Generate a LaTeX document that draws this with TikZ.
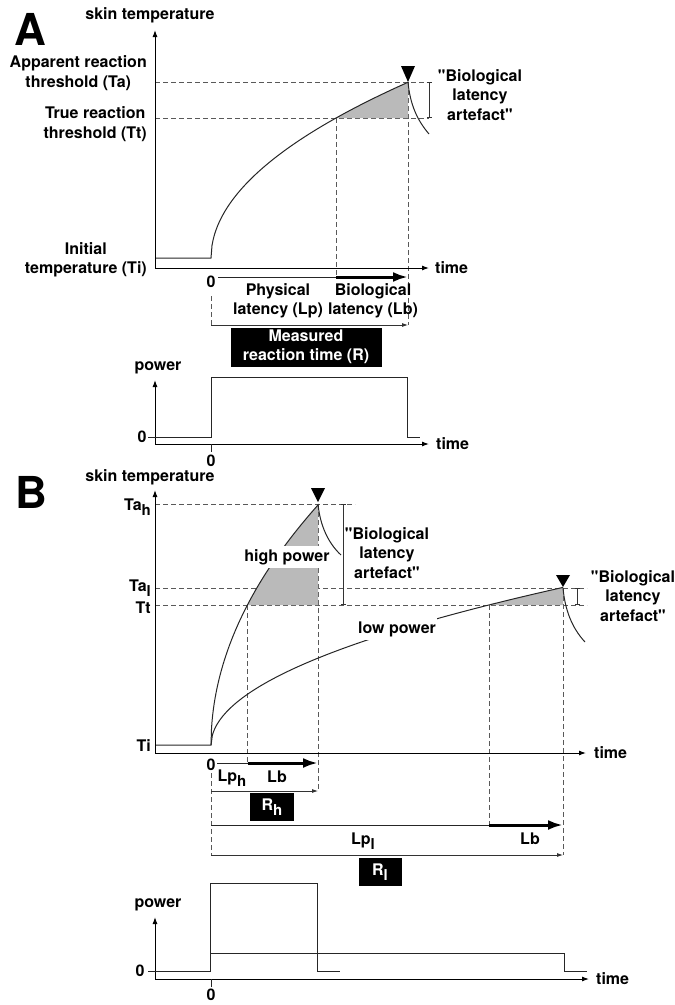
\documentclass[tikz,border=0pt]{standalone}
\usepackage{fontspec}
\setmainfont[Ligatures=TeXOff]{TeX Gyre Heros}
\usetikzlibrary{arrows.meta}
\newcommand{\lsub}[1]{\raisebox{-0.35em}{\fontsize{15}{15}\selectfont #1}}

\tikzset{
  lab/.style={font=\fontsize{16}{19.5}\selectfont\bfseries, inner sep=0pt, align=center},
  letter/.style={font=\fontsize{44}{44}\selectfont\bfseries, inner sep=0pt},
  axis/.style={line width=1pt, -{Latex[length=7pt,width=5pt]}},
  guide/.style={black!65, line width=0.9pt, dash pattern=on 5pt off 3pt},
  trace/.style={black!85, line width=1pt},
  thinarr/.style={black!80, line width=0.8pt, -{Latex[length=6pt,width=4pt]}},
  boldarr/.style={line width=3pt, -{Latex[length=15pt,width=10pt]}},
  darkbox/.style={lab, fill=black, text=white},
  shade/.style={fill=black!27},
  brace/.style={black!80, line width=0.8pt, {Bar[width=5pt]}-{Bar[width=5pt]}},
  gap/.style={lab, fill=white, inner xsep=1pt, inner ysep=3pt},
}

\begin{document}
\begin{tikzpicture}[x=1pt,y=-1pt]
    \useasboundingbox (0,0) rectangle (675,1005);

    % panel A, skin temperature
    \node[letter] (PA) at (30,29) {A};
    \node[lab] (skinA) at (150,15) {skin temperature};
    \coordinate (OA) at (155,268);
    \coordinate (YA) at (155,30);
    \coordinate (XA) at (429,268);
    \coordinate (TtA) at (336,118);
    \coordinate (TaA) at (408,82);
    \coordinate (EA) at (429,118);

    \draw[guide] (OA |- TaA) -- (EA |- TaA);
    \draw[guide] (OA |- TtA) -- (EA);
    \draw[guide] (TtA) -- (336,277);
    \draw[guide] (TaA) -- (408,325);
    \draw[guide] (211,296) -- (211,325);

    \fill[shade] plot[domain=125:197,samples=80] ({211+\x},{258-12.52*sqrt(\x)}) -- (TaA |- TtA) -- cycle;
    \draw[trace] (155,258) -- (211,258) -- plot[domain=0:197,samples=200] ({211+\x},{258-12.52*sqrt(\x)});
    \draw[trace] (TaA) .. controls (410,104) and (417,120) .. (429,134);
    \draw[brace] (EA |- TaA) -- (EA);
    \fill (401,66) -- (415,66) -- (TaA) ++(0,-2) -- cycle;
    \draw[axis] (OA) -- (YA);
    \draw[axis] (OA) -- (XA);

    \node[lab, anchor=east] (Ta) at (147,73) {Apparent reaction\\threshold (Ta)};
    \node[lab, anchor=east] (Tt) at (147,124) {True reaction\\threshold (Tt)};
    \node[lab, anchor=east] (Ti) at (147,260) {Initial\\temperature (Ti)};
    \node[lab] (bioA) at (480,95) {"Biological\\latency\\artefact"};
    \node[lab, anchor=west] (timeA) at (435,268) {time};
    \node[lab] (zeroA) at (211,282) {0};

    \coordinate (LpA) at (218,277);
    \coordinate (LbA) at (336,277);
    \coordinate (RA) at (408,277);
    \draw[trace] (LpA) -- (LbA);
    \draw[boldarr] (LbA) -- (RA);
    \node[lab] (phys) at (278,301) {Physical\\latency (Lp)};
    \node[lab] (biol) at (373,301) {Biological\\latency (Lb)};
    \draw[thinarr] (211,325) -- (408,325);
    \node[darkbox, minimum width=151pt, minimum height=39pt] (R) at (306,347) {Measured\\reaction time (R)};

    % panel A, power
    \node[lab] (powA) at (158,368) {power};
    \coordinate (QA) at (155,444);
    \draw[axis] (QA) -- (155,380);
    \draw[axis] (QA) -- (429,444);
    \node[lab] (nullA) at (142,437) {0};
    \draw[trace] (148,437) -- (211,437) -- (211,377) -- (407,377) -- (407,437) -- (420,437);
    \draw[trace] (211,444) -- (211,452);
    \node[lab] (zeroA2) at (211,461) {0};
    \node[lab, anchor=west] (timeA2) at (436,444) {time};

    % panel B, skin temperature
    \node[letter] (PB) at (31,492) {B};
    \node[lab] (skinB) at (150,477) {skin temperature};
    \coordinate (OB) at (155,753);
    \coordinate (YB) at (155,490);
    \coordinate (XB) at (586,753);
    \coordinate (TahB) at (318,504);
    \coordinate (TalB) at (563,588);
    \coordinate (TthB) at (247.5,605);
    \coordinate (TtlB) at (489,605);

    \draw[guide] (OB |- TahB) -- (355,504);
    \draw[guide] (OB |- TalB) -- (587,588);
    \draw[guide] (OB |- TtlB) -- (587,605);
    \draw[guide] (TthB) -- (247.5,763);
    \draw[guide] (TahB) -- (318,791);
    \draw[guide] (TtlB) -- (489,825);
    \draw[guide] (TalB) -- (563,855);
    \draw[guide] (211,773) -- (211,855);

    \fill[shade] plot[domain=36.4:107,samples=60] ({211+\x},{745-23.2*sqrt(\x)}) -- (TahB |- TtlB) -- cycle;
    \fill[shade] plot[domain=277.8:352,samples=60] ({211+\x},{745-8.4*sqrt(\x)}) -- (TalB |- TtlB) -- cycle;
    \draw[trace] (155,745) -- (211,745) -- plot[domain=0:107,samples=200] ({211+\x},{745-23.2*sqrt(\x)});
    \draw[trace] plot[domain=0:352,samples=250] ({211+\x},{745-8.4*sqrt(\x)});
    \draw[trace] (TahB) .. controls (320,525) and (328,543) .. (341,555);
    \draw[trace] (TalB) .. controls (565,610) and (572,628) .. (585,642);
    \draw[brace] (343,504) -- (343,605);
    \draw[brace] (577,588) -- (577,605);
    \fill (311,488) -- (325,488) -- (318,502) -- cycle;
    \fill (556,575) -- (570,575) -- (563,587) -- cycle;
    \draw[axis] (OB) -- (YB);
    \draw[axis] (OB) -- (XB);

    \node[gap] (high) at (287,557) {high power};
    \node[gap] (low) at (397,629) {low power};
    \node[lab, anchor=base east] (Tah) at (151,510) {Ta\lsub{h}};
    \node[lab, anchor=base east] (Tal) at (151,591) {Ta\lsub{l}};
    \node[lab, anchor=base east] (TtB) at (151,613) {Tt};
    \node[lab, anchor=base east] (TiB) at (151,751) {Ti};
    \node[lab] (bioB1) at (387,553) {"Biological\\latency\\artefact"};
    \node[lab] (bioB2) at (633,596) {"Biological\\latency\\artefact"};
    \node[lab, anchor=west] (timeB) at (594,753) {time};
    \node[lab] (zeroB) at (211,765) {0};

    \coordinate (LphB) at (217,763);
    \coordinate (LbhB) at (247.5,763);
    \coordinate (RhB) at (318,763);
    \draw[trace] (LphB) -- (LbhB);
    \draw[boldarr] (LbhB) -- (RhB);
    \node[lab, anchor=base] (Lph) at (232,781) {Lp\lsub{h}};
    \node[lab, anchor=base] (Lbh) at (277,782) {Lb};
    \draw[thinarr] (211,791) -- (318,791);
    \node[darkbox, minimum width=44pt, minimum height=28pt] (Rh) at (272,807) {R\lsub{h}};

    \coordinate (LplB) at (211,825);
    \coordinate (LblB) at (489,825);
    \coordinate (RlB) at (563,825);
    \draw[trace] (LplB) -- (LblB);
    \draw[boldarr] (LblB) -- (RlB);
    \node[lab, anchor=base] (Lpl) at (363,844) {Lp\lsub{l}};
    \node[lab, anchor=base] (Lbl) at (530,844) {Lb};
    \draw[thinarr] (211,855) -- (563,855);
    \node[darkbox, minimum width=43pt, minimum height=28pt] (Rl) at (380,872) {R\lsub{l}};

    % panel B, power
    \node[lab] (powB) at (158,905) {power};
    \coordinate (QB) at (155,979);
    \draw[axis] (QB) -- (155,917);
    \draw[axis] (QB) -- (589,979);
    \node[lab] (nullB) at (140,971) {0};
    \draw[trace] (148,971) -- (210,971) -- (210,883) -- (317,883) -- (317,971) -- (340,971);
    \draw[trace] (210,953) -- (564,953) -- (564,971) -- (587,971);
    \draw[trace] (211,979) -- (211,987);
    \node[lab] (zeroB2) at (211,995) {0};
    \node[lab, anchor=west] (timeB2) at (596,979) {time};
\end{tikzpicture}
\end{document}
